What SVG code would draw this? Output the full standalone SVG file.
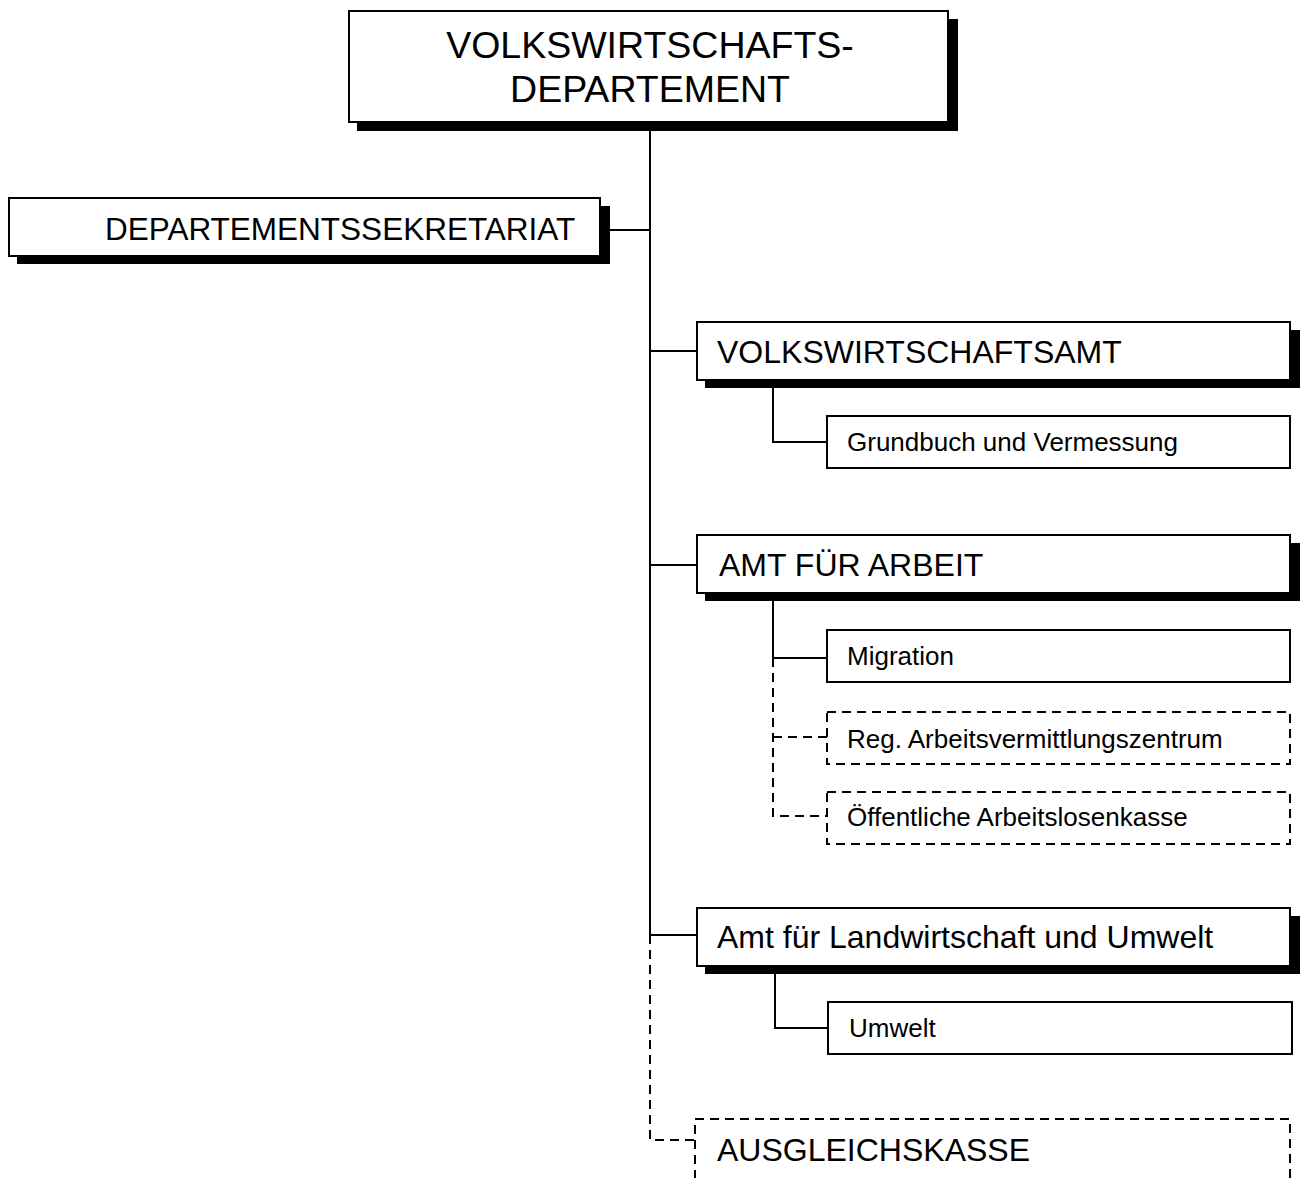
<svg xmlns="http://www.w3.org/2000/svg" width="1306" height="1178" viewBox="0 0 1306 1178">
  <style>
    .box { fill: #fff; stroke: #000; stroke-width: 2; }
    .dbox { fill: #fff; stroke: #000; stroke-width: 2; stroke-dasharray: 9 6; }
    .shadow { fill: #000; }
    .line { fill: none; stroke: #000; stroke-width: 2; }
    .dline { fill: none; stroke: #000; stroke-width: 2; stroke-dasharray: 9 6; }
    text { font-family: "Liberation Sans", Arial, sans-serif; fill: #000; }
    .t1 { font-size: 37.5px; }
    .t2 { font-size: 32px; }
    .t3 { font-size: 26px; }
  </style>
  <rect width="1306" height="1178" fill="#fff"/>

  <!-- connectors -->
  <g id="connectors">
    <path class="line" d="M650 130 V935"/>
    <path class="dline" d="M650 935 V1140 H695"/>
    <path class="line" d="M609 230 H650"/>
    <path class="line" d="M650 351 H697"/>
    <path class="line" d="M650 565 H697"/>
    <path class="line" d="M650 935 H697"/>
    <path class="line" d="M773 388 V442 H827"/>
    <path class="line" d="M773 600 V658 H827"/>
    <path class="dline" d="M773 658 V816 H827"/>
    <path class="dline" d="M773 737 H827"/>
    <path class="line" d="M775 974 V1028 H828"/>
  </g>

  <!-- department -->
  <g id="node-department">
    <rect class="shadow" x="357" y="19" width="601" height="112"/>
    <rect class="box" x="349" y="11" width="599" height="111"/>
    <text class="t1" x="650" y="58" text-anchor="middle">VOLKSWIRTSCHAFTS-</text>
    <text class="t1" x="650" y="102" text-anchor="middle">DEPARTEMENT</text>
  </g>

  <!-- secretariat -->
  <g id="node-secretariat">
    <rect class="shadow" x="17" y="206" width="593" height="58"/>
    <rect class="box" x="9" y="198" width="591" height="58"/>
    <text class="t2" x="105" y="240" style="font-size:31.5px">DEPARTEMENTSSEKRETARIAT</text>
  </g>

  <!-- Volkswirtschaftsamt -->
  <g id="node-vwa">
    <rect class="shadow" x="705" y="330" width="595" height="58"/>
    <rect class="box" x="697" y="322" width="593" height="58"/>
    <text class="t2" x="717" y="363">VOLKSWIRTSCHAFTSAMT</text>
  </g>
  <g id="node-grundbuch">
    <rect class="box" x="827" y="416" width="463" height="52"/>
    <text class="t3" x="847" y="451">Grundbuch und Vermessung</text>
  </g>

  <!-- Amt fuer Arbeit -->
  <g id="node-afa">
    <rect class="shadow" x="705" y="543" width="595" height="58"/>
    <rect class="box" x="697" y="535" width="593" height="58"/>
    <text class="t2" x="719" y="576">AMT FÜR ARBEIT</text>
  </g>
  <g id="node-migration">
    <rect class="box" x="827" y="630" width="463" height="52"/>
    <text class="t3" x="847" y="665">Migration</text>
  </g>
  <g id="node-rav">
    <rect class="dbox" x="827" y="712" width="463" height="52"/>
    <text class="t3" x="847" y="748">Reg. Arbeitsvermittlungszentrum</text>
  </g>
  <g id="node-oak">
    <rect class="dbox" x="827" y="792" width="463" height="52"/>
    <text class="t3" x="847" y="826">Öffentliche Arbeitslosenkasse</text>
  </g>

  <!-- Amt fuer Landwirtschaft und Umwelt -->
  <g id="node-alu">
    <rect class="shadow" x="705" y="916" width="595" height="58"/>
    <rect class="box" x="697" y="908" width="593" height="58"/>
    <text class="t2" x="717" y="948">Amt für Landwirtschaft und Umwelt</text>
  </g>
  <g id="node-umwelt">
    <rect class="box" x="828" y="1002" width="464" height="52"/>
    <text class="t3" x="849" y="1037">Umwelt</text>
  </g>

  <!-- Ausgleichskasse -->
  <g id="node-ausgleichskasse">
    <rect class="dbox" x="695" y="1119" width="595" height="80"/>
    <text class="t2" x="717" y="1161">AUSGLEICHSKASSE</text>
  </g>
</svg>
